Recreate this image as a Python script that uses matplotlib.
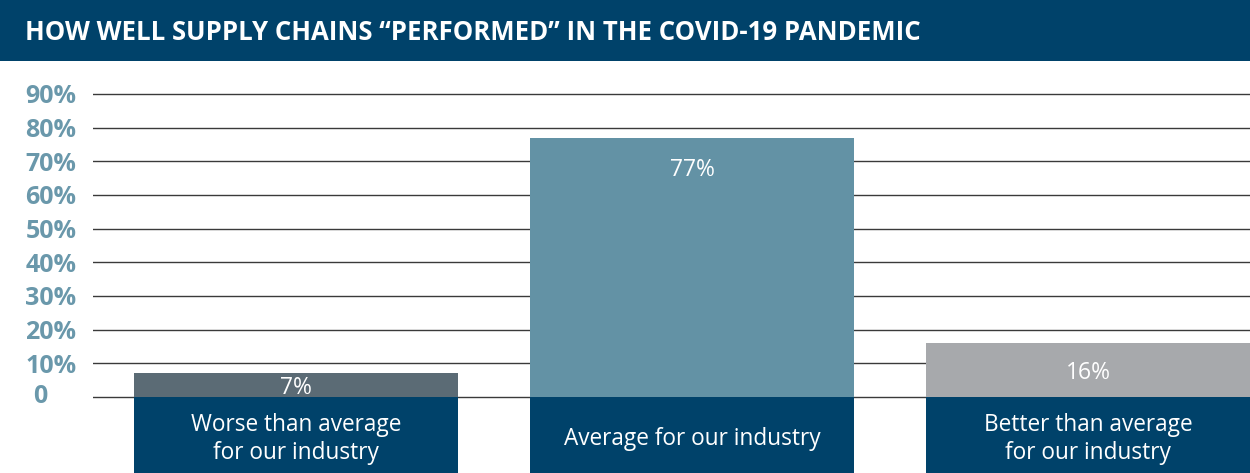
import matplotlib
matplotlib.use("Agg")
import matplotlib.pyplot as plt
from matplotlib.patches import Rectangle
from matplotlib.transforms import blended_transform_factory

# ── Data ─────────────────────────────────────────────────────────────────────
categories = ["Worse than average\nfor our industry",
              "Average for our industry",
              "Better than average\nfor our industry"]
values = [7, 77, 16]
value_labels = ["7%", "77%", "16%"]
yticks = [0, 10, 20, 30, 40, 50, 60, 70, 80, 90]
ytick_labels = ["0", "10%", "20%", "30%", "40%", "50%", "60%", "70%", "80%", "90%"]
title = "HOW WELL SUPPLY CHAINS \u201cPERFORMED\u201d IN THE COVID-19 PANDEMIC"

# ── Style ────────────────────────────────────────────────────────────────────
NAVY = "#00426a"
BAR_COLORS = ["#5b6b75", "#6392a5", "#a7a9ac"]
TICK_COLOR = "#6a98ab"
W, H = 1250, 473
BAR_W = 0.818
Y_BOTTOM, Y_TOP = -22.6, 99.8

fig = plt.figure(figsize=(W / 100, H / 100), dpi=100)
fig.patch.set_facecolor("white")

# title bar
fig.patches.append(Rectangle((0, 1 - 61 / H), 1, 61 / H, transform=fig.transFigure,
                             facecolor=NAVY, edgecolor="none", zorder=0))
fig.text(25 / W, 1 - 33 / H, title, color="white", fontsize=18.5,
         fontweight="bold", family="Open Sans", va="center", ha="left")

ax = fig.add_axes([93 / W, 0, 1 - 93 / W, (H - 61) / H])
x = list(range(len(values)))

for yv in yticks:
    ax.axhline(yv, color="#3a3a3a", linewidth=1.0, zorder=1)

ax.bar(x, values, width=BAR_W, color=BAR_COLORS, zorder=2)
ax.bar(x, [Y_BOTTOM] * len(x), width=BAR_W, color=NAVY, zorder=3)

for xi, v, lab, cat in zip(x, values, value_labels, categories):
    ly = v - 9.5 if v > 30 else v / 2 - 0.8
    ax.text(xi, ly, lab, color="white", fontsize=16.5, family="Open Sans",
            ha="center", va="center", zorder=4)
    ax.text(xi, -12.5, cat, color="white", fontsize=16.3, family="Open Sans",
            ha="center", va="center", linespacing=1.2, zorder=4)

ax.set_xlim(-0.513, 2.409)
ax.set_ylim(Y_BOTTOM, Y_TOP)
ax.set_yticks(yticks)
# the zero label sits centred further left, drawn separately below
ax.set_yticklabels([""] + ytick_labels[1:])
ax.set_xticks([])
ax.tick_params(axis="y", length=0, pad=12, labelsize=18, labelcolor=TICK_COLOR)
for t in ax.get_yticklabels():
    t.set_fontweight("bold")
    t.set_family("Open Sans")
trans = blended_transform_factory(fig.transFigure, ax.transData)
ax.text(40 / W, yticks[0], ytick_labels[0], transform=trans, color=TICK_COLOR,
        fontsize=18, fontweight="bold", family="Open Sans",
        ha="center", va="center", clip_on=False)
for s in ax.spines.values():
    s.set_visible(False)
ax.set_facecolor("none")

fig.savefig("out.png", dpi=100)
